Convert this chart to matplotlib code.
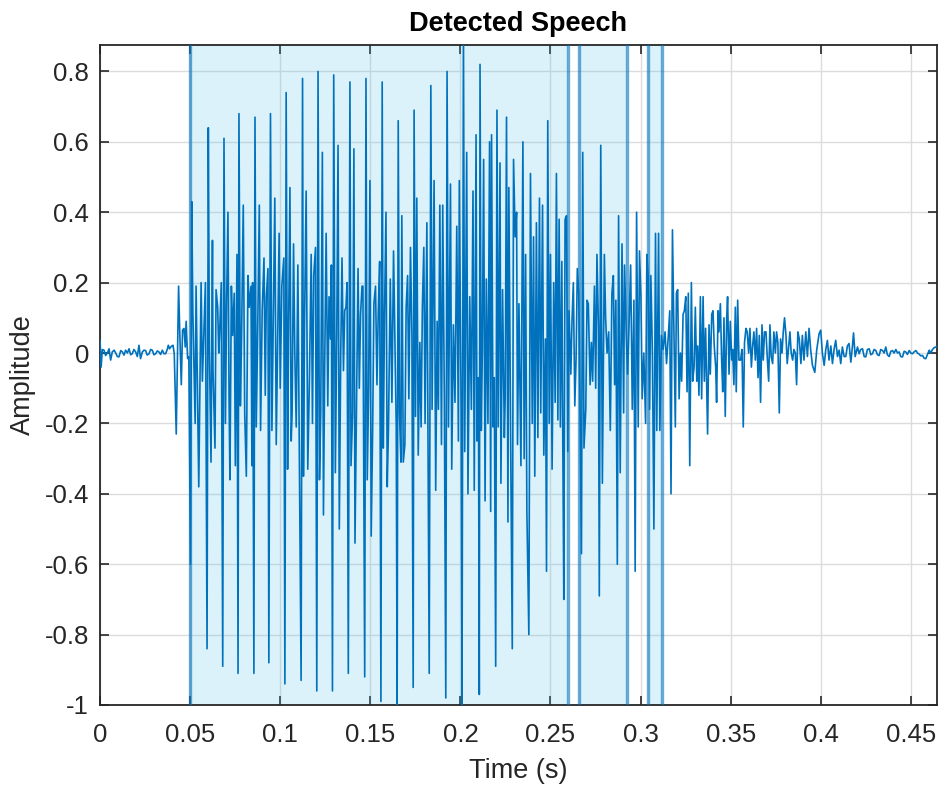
import matplotlib
matplotlib.use("Agg")
import matplotlib.pyplot as plt

# waveform: time in ms, amplitude
time_ms = [
    0.0, 0.6, 1.3, 2.2, 3.1, 4.1, 5.0, 5.9, 6.8, 7.8, 8.7, 9.6, 10.5, 11.5, 12.4, 13.3,
    14.2, 15.2, 16.1, 17.0, 17.9, 18.8, 19.8, 20.7, 21.6, 22.5, 23.5, 24.4, 25.3, 26.2,
    27.2, 28.1, 29.0, 29.9, 30.9, 31.8, 32.7, 33.6, 34.6, 35.5, 36.4, 37.3, 37.9, 38.6,
    39.2, 39.9, 40.5, 41.2, 42.3, 43.6, 44.3, 45.1, 45.8, 46.6, 47.3, 47.8, 48.6, 49.3,
    50.2, 50.9, 51.5, 52.8, 53.3, 54.8, 56.1, 56.8, 57.9, 58.5, 59.4, 60.1, 60.7, 61.6,
    62.4, 62.7, 63.8, 64.4, 65.3, 65.9, 66.4, 67.3, 68.1, 68.8, 69.6, 70.3, 71.0, 71.6,
    72.1, 72.9, 73.6, 74.5, 75.1, 76.0, 76.6, 77.1, 77.9, 78.6, 79.5, 80.3, 81.2, 82.1,
    82.8, 83.8, 84.3, 84.7, 85.4, 86.0, 86.7, 87.5, 88.4, 89.1, 90.0, 91.0, 91.7, 92.3,
    93.2, 93.7, 94.6, 95.4, 96.3, 97.0, 97.8, 98.7, 99.4, 100.0, 100.9, 102.0, 102.6,
    103.3, 104.1, 104.6, 105.4, 106.1, 106.6, 107.4, 108.1, 108.9, 109.8,
    111.6, 112.4, 112.9, 113.5, 114.4, 115.3, 116.2, 117.2, 117.9, 118.6, 119.6, 120.3,
    121.0, 121.8, 122.5, 123.4, 124.0, 124.7, 125.5, 126.4, 127.1, 127.9, 128.4, 129.0,
    129.7, 130.6, 131.4, 132.1, 132.8, 133.6, 134.3, 135.1, 135.8, 136.5, 137.1, 137.8,
    138.7, 139.3, 140.2, 140.9, 141.5, 142.2, 143.2, 143.9, 144.6, 145.4, 145.9, 146.9,
    147.6, 148.3, 149.1, 149.8, 150.5, 151.3, 152.0, 152.9, 153.7, 154.4, 155.2, 155.9,
    156.6, 157.2, 157.9, 158.7, 159.4, 160.1, 161.1, 162.0, 162.9, 164.4, 164.9, 165.5,
    166.2, 167.0, 167.5, 168.3, 169.2, 169.9, 170.7, 171.4, 172.3, 173.1, 173.8, 174.3,
    175.1, 175.8, 176.6, 177.5, 178.2, 178.9,
    179.7, 180.4, 181.4, 182.7, 183.6, 184.3, 185.4, 186.3, 187.1, 187.8, 188.6, 189.5,
    190.2, 191.1, 191.9, 192.6, 193.4, 194.5, 195.2, 196.1, 197.0, 198.0, 198.9, 199.4,
    200.4, 200.9, 201.7, 202.4, 203.5, 204.2, 205.2, 206.1, 207.0, 207.7, 208.7, 209.2,
    210.0, 210.5, 210.9, 211.6, 212.2, 212.9, 213.7, 214.4, 215.3, 216.2, 216.8, 217.3,
    218.1, 218.8, 219.6, 220.3, 221.0, 222.0, 222.5, 223.4, 224.4, 224.9, 225.6, 226.4,
    226.9, 227.9, 228.8, 229.5, 230.4, 231.2, 231.7, 232.5, 233.6, 234.7, 235.4, 236.2,
    236.9, 238.0, 238.9, 239.9, 240.6, 241.3, 242.2, 243.0, 243.9, 244.6, 245.6, 246.3,
    247.2, 247.8, 248.5,
    249.3, 250.0, 250.9, 251.8, 252.6, 253.3, 254.1, 254.8, 255.5, 256.3, 256.8, 257.4,
    258.1, 258.9, 259.6, 260.3, 261.3, 262.0, 262.7, 263.5, 264.2, 264.9, 265.7, 266.4,
    267.2, 267.9, 268.6, 269.6, 270.3, 271.0, 272.0, 272.7, 273.4, 274.4, 275.1, 275.8,
    276.6, 277.1, 277.9, 278.8, 279.9, 280.6, 281.4, 282.3, 283.2, 284.1, 284.9, 285.6,
    286.3, 287.1, 287.8, 288.7, 289.7, 290.6, 291.1, 292.1, 292.8, 293.5, 294.5, 295.4,
    296.3, 297.0, 297.8, 298.7, 299.4, 300.2, 300.9, 301.8, 302.8, 303.5, 304.2, 305.0,
    305.7, 306.6, 307.4, 308.3, 309.0, 310.0, 310.7, 311.6, 312.5, 313.6, 314.4, 315.3,
    316.2, 316.9, 317.7,
    319.3, 319.9, 320.6, 321.4, 322.1, 322.8, 323.6, 324.3, 325.1, 325.8, 326.5, 327.3,
    328.2, 328.9, 329.7, 330.4, 331.2, 331.7, 332.4, 333.2, 333.9, 334.7, 335.4, 336.1,
    336.7, 337.2, 338.0, 338.7, 339.5, 340.2, 340.9, 341.7, 342.2, 343.0, 343.5, 344.3,
    345.0, 345.6, 346.3, 347.0, 347.8, 348.3, 349.1, 349.8, 350.6, 351.1, 351.8, 352.6,
    353.1, 353.9, 354.6, 355.5, 356.3, 357.0, 357.7, 358.5, 359.2, 360.0, 360.7, 361.5,
    362.2, 362.9, 363.7, 364.4, 365.2, 365.9, 366.6, 367.4, 368.1, 368.8, 369.6, 370.3,
    371.1, 371.8, 372.5, 373.3, 374.0, 374.8, 375.5, 376.2, 377.0, 377.7, 378.5, 379.2,
    379.9, 380.7, 381.4, 382.2, 382.9, 383.6, 384.4, 385.1, 385.9, 386.6, 387.3, 388.1,
    389.0, 389.8, 390.7, 391.7, 392.6, 393.5, 394.4, 395.4, 396.7, 397.8, 399.1, 400.0,
    400.9, 401.9, 402.8, 403.7, 404.6, 405.6, 406.5, 407.4, 408.3, 409.3, 410.2, 411.1,
    412.0, 413.0, 413.9, 414.8, 415.7, 416.7, 417.6, 418.2, 419.1, 420.4, 421.3, 422.2,
    423.2, 424.1, 425.0, 425.9, 426.9, 427.8, 428.7, 429.6, 430.6, 431.5, 432.4, 433.3,
    434.3, 435.2, 436.1, 437.0, 438.0, 438.9, 439.8, 440.7, 441.7, 442.6, 443.5, 444.4,
    445.4, 446.3, 447.2, 448.1, 449.1, 450.0, 450.9, 451.8, 452.8, 453.7, 454.6, 455.5,
    456.5, 457.4, 458.3, 459.2, 460.2, 461.1, 462.0, 462.9, 463.9, 464.8,
]

amplitude = [
    0.036, -0.04, 0.01, 0.008, -0.007, 0.0, 0.012, -0.02, 0.003, 0.008, 0.0, -0.01, -0.011, 0.007, 0.003, -0.006,
    0.008, 0.0, 0.012, -0.005, -0.002, 0.01, 0.003, -0.01, 0.022, -0.016, 0.003, 0.008, 0.007, -0.006,
    -0.002, 0.01, 0.008, -0.005, -0.002, 0.006, 0.003, -0.004, 0.008, -0.002, -0.002, 0.01, 0.022, 0.012,
    0.017, 0.02, 0.022, -0.002, -0.23, 0.19, 0.05, -0.09, 0.065, 0.07, 0.017, 0.09, -0.016, -0.01,
    -0.6, 0.43, 0.12, -0.2, 0.19, -0.38, 0.2, -0.08, 0.1, 0.2, -0.84, 0.64, 0.01, -0.31,
    0.32, -0.05, -0.27, 0.18, 0.13, 0.0, 0.06, 0.2, -0.89, 0.61, -0.2, 0.16, 0.4, -0.12,
    -0.36, 0.19, 0.05, 0.17, -0.32, 0.28, -0.91, 0.68, -0.15, 0.06, 0.42, -0.17, -0.35, 0.22,
    0.13, 0.19, -0.32, 0.2, -0.91, 0.67, -0.21, 0.06, 0.42, -0.22, 0.12, 0.27, -0.12, 0.16,
    0.24, -0.88, 0.68, -0.22, 0.15, 0.44, -0.26, 0.09, 0.34, -0.1, 0.19, 0.27, -0.94,
    0.74, -0.33, 0.03, 0.47, -0.25, -0.17, 0.31, 0.0, -0.21, 0.25,
    -0.93, 0.78, -0.35, 0.08, 0.46, -0.33, -0.08, 0.28, -0.2, 0.22, 0.30, -0.96,
    0.80, -0.36, -0.17, 0.57, -0.46, -0.03, 0.34, -0.15, 0.16, 0.04, 0.25, -0.96,
    0.79, -0.34, 0.06, 0.59, -0.50, 0.0, 0.27, -0.05, 0.12, 0.13, 0.20, -0.91,
    0.77, -0.32, -0.17, 0.58, -0.54, -0.23, 0.24, -0.10, 0.11, 0.19, 0.19, -0.92,
    0.78, -0.36, -0.10, 0.49, -0.52, -0.22, 0.14, 0.19, -0.09, 0.11, 0.26, -0.99,
    0.77, -0.27, 0.11, 0.40, -0.38, -0.21, 0.21, -0.14, 0.29, -0.21, -1.0, 0.66,
    -0.17, -0.31, 0.39, -0.31, -0.26, 0.13, 0.22, -0.13, 0.30, 0.05, -0.95, 0.69,
    -0.18, 0.44, -0.29, 0.03, -0.21, 0.13,
    0.30, -0.20, 0.37, -0.91, 0.76, -0.16, 0.49, -0.39, 0.09, -0.16, 0.42, -0.26,
    0.42, -0.13, -0.98, 0.80, -0.21, 0.48, -0.33, 0.08, -0.14, 0.36, -0.25, 0.49,
    -0.15, -1.0, 0.92, -0.28, 0.57, -0.40, 0.16, -0.16, 0.46, -0.39, 0.62, -0.25,
    -0.07, -0.97, 0.82, -0.22, 0.01, 0.55, -0.42, 0.21, -0.20, 0.60, -0.45, 0.62,
    -0.21, -0.07, -0.89, 0.69, -0.21, 0.54, -0.37, 0.18, -0.24, -0.12, 0.67, -0.48,
    0.47, -0.25, -0.84, 0.55, 0.33, 0.40, -0.26, 0.14, -0.32, 0.60, -0.30, 0.28,
    -0.45, -0.80, 0.51, -0.20, 0.33, -0.35, 0.37, -0.24, 0.44, -0.17, 0.42, -0.29,
    0.04, -0.62, 0.66,
    -0.20, 0.28, -0.33, 0.20, -0.14, 0.51, -0.19, 0.38, -0.21, 0.26, -0.22, -0.70,
    0.38, 0.39, -0.28, 0.12, -0.06, 0.10, 0.20, -0.15, -0.02, 0.24, 0.17, -0.15,
    -0.57, 0.57, -0.27, -0.16, 0.15, 0.14, -0.09, 0.03, -0.08, 0.19, -0.10, 0.28,
    0.08, -0.69, 0.59, -0.37, 0.28, 0.10, 0.0, 0.06, -0.22, 0.17, 0.22, -0.09,
    0.15, -0.60, 0.39, -0.34, 0.31, -0.17, 0.25, 0.05, -0.06, 0.06, 0.25, -0.16,
    0.15, -0.62, 0.40, -0.21, 0.29, 0.16, -0.13, 0.0, -0.20, 0.28, 0.22, -0.16,
    0.22, -0.01, -0.50, 0.34, -0.22, 0.34, -0.22, 0.05, 0.01, 0.06, -0.03, 0.04,
    0.12, -0.40, 0.35,
    -0.21, 0.17, 0.18, -0.13, 0.0, -0.08, 0.11, 0.12, 0.16, -0.11, 0.17, -0.32,
    0.20, -0.08, -0.04, 0.13, -0.08, 0.02, -0.12, 0.16, -0.13, 0.16, -0.08, 0.07,
    -0.09, -0.23, 0.08, -0.06, 0.11, 0.12, 0.02, -0.04, -0.14, 0.12, 0.06, 0.14,
    -0.02, -0.11, 0.10, -0.18, 0.10, 0.16, -0.06, 0.09, -0.02, 0.01, -0.09, 0.13,
    -0.11, 0.15, -0.02, -0.02, 0.01, -0.21, 0.03, 0.07, 0.06, 0.0, 0.07, -0.04,
    0.02, 0.06, -0.02, 0.07, -0.07, 0.05, -0.14, 0.08, -0.02, 0.06, 0.06, -0.01,
    -0.08, 0.08, -0.01, -0.03, 0.06, 0.0, 0.06, 0.03, -0.17, 0.04, 0.0, 0.06,
    0.10, 0.05, -0.03, 0.02, 0.06, 0.0, -0.02, 0.01, 0.0, -0.09, 0.06, 0.04,
    -0.03, 0.05, -0.02, 0.06, -0.01, 0.07, 0.01, -0.035, -0.055, 0.01, 0.055, 0.065,
    0.0, -0.035, 0.01, 0.036, -0.02, 0.02, -0.03, 0.01, 0.036, -0.01, 0.008, -0.03,
    0.017, -0.01, -0.01, 0.02, 0.027, -0.026, 0.02, 0.057, -0.01, 0.017, -0.002, 0.01,
    0.012, -0.01, -0.011, 0.01, 0.012, -0.005, -0.002, 0.01, 0.007, -0.005, -0.007, 0.01,
    0.007, 0.0, 0.017, -0.005, -0.01, 0.005, 0.007, 0.0, 0.01, 0.0, 0.003, -0.01,
    -0.011, 0.005, 0.003, -0.004, 0.007, 0.0, -0.002, 0.003, 0.007, 0.0, -0.003, -0.008,
    -0.007, -0.015, -0.016, -0.005, 0.008, 0.0, 0.01, 0.015, 0.017, 0.02,
]

# detected speech segments (s)
speech_start = [0.0502, 0.2660, 0.3040]
speech_end = [0.2597, 0.2922, 0.3118]

xtick_values = [0, 0.05, 0.1, 0.15, 0.2, 0.25, 0.3, 0.35, 0.4, 0.45]
xtick_labels = ["0", "0.05", "0.1", "0.15", "0.2", "0.25", "0.3", "0.35", "0.4", "0.45"]
ytick_values = [-1, -0.8, -0.6, -0.4, -0.2, 0, 0.2, 0.4, 0.6, 0.8]
ytick_labels = ["-1", "-0.8", "-0.6", "-0.4", "-0.2", "0", "0.2", "0.4", "0.6", "0.8"]

plt.rcParams["font.family"] = ["Liberation Sans", "DejaVu Sans"]

fig = plt.figure(figsize=(9.41, 7.9), dpi=100)
ax = fig.add_axes([0.1063, 0.1076, 0.8894, 0.8354])

time_s = [t / 1000 for t in time_ms]

for s, e in zip(speech_start, speech_end):
    ax.axvspan(s, e, color=(0.3, 0.75, 0.93), alpha=0.2, lw=0, zorder=1)

ax.plot(time_s, amplitude, color="#0072BD", lw=1.2, zorder=3)

for s, e in zip(speech_start, speech_end):
    ax.axvline(s, color="#0072BD", alpha=0.6, lw=2.4, zorder=4)
    ax.axvline(e, color="#0072BD", alpha=0.6, lw=2.4, zorder=4)

ax.set_xlim(0, 0.4645)
ax.set_ylim(-1, 0.875)
ax.set_xticks(xtick_values)
ax.set_xticklabels(xtick_labels)
ax.set_yticks(ytick_values)
ax.set_yticklabels(ytick_labels)

ax.grid(True, color="#dcdcdc", lw=1.0, zorder=0)
ax.set_axisbelow(True)
ax.tick_params(direction="in", length=6.5, width=1.2, top=True, right=True,
               labelsize=18.5, colors="#262626")
ax.tick_params(axis="y", pad=8)
ax.tick_params(axis="x", pad=13)
for sp in ax.spines.values():
    sp.set_color("#262626")
    sp.set_linewidth(1.3)

ax.set_xlabel("Time (s)", fontsize=19.5, color="#262626", labelpad=8)
ax.set_ylabel("Amplitude", fontsize=19.5, color="#262626", labelpad=6)
ax.set_title("Detected Speech", fontsize=19.5, fontweight="bold", pad=10)

fig.savefig("out.png", dpi=100)
